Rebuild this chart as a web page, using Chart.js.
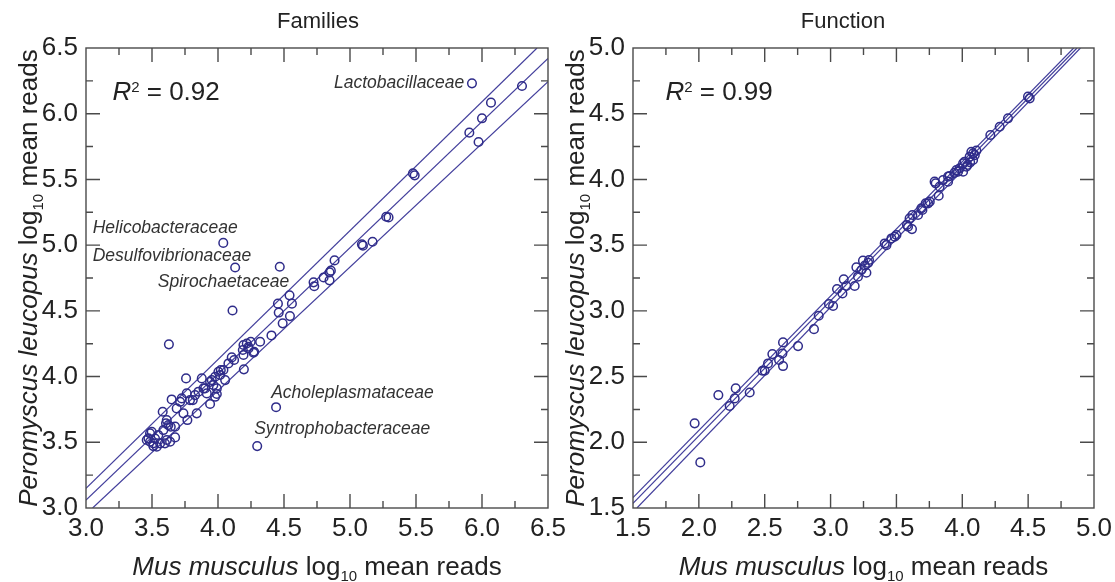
<!DOCTYPE html>
<html>
<head>
<meta charset="utf-8">
<script src="https://cdn.jsdelivr.net/npm/chart.js@4.4.1/dist/chart.umd.min.js"></script>
<style>
  html, body { margin: 0; padding: 0; background: #fff; overflow: hidden; width: 1115px; height: 582px; }
  canvas { position: absolute; top: 0; }
  #famChart { left: 0; }
  #funChart { left: 557px; }
</style>
</head>
<body>
<canvas id="famChart" width="600" height="582"></canvas>
<canvas id="funChart" width="590" height="582"></canvas>
<script>
// Families: Mus musculus (x) vs Peromyscus leucopus (y), log10 mean reads
const famX = [5.924, 6.303, 6.068, 6.000, 5.904, 5.974, 5.477, 5.490, 5.274, 5.292,
  5.090, 5.098, 5.171, 4.883, 4.845, 4.855, 4.845, 4.800, 4.724, 4.729,
  4.040, 4.130, 4.468, 4.110, 4.542, 4.454, 4.460, 4.560, 4.545, 4.490,
  4.405, 3.628, 4.440, 4.297, 4.193, 4.218, 4.248, 4.231, 4.269, 4.319,
  4.196, 4.193, 4.274, 4.188, 4.231, 4.104, 4.122, 4.079, 4.041, 4.003,
  4.016, 4.054, 3.978, 3.953, 3.965, 3.991, 3.940, 4.021, 3.991, 3.940,
  3.890, 3.915, 3.978, 3.877, 3.758, 3.902, 3.852, 3.826, 3.809, 3.763,
  3.839, 3.768, 3.725, 3.649, 3.687, 3.581, 3.612, 3.642, 3.713, 3.738,
  3.788, 3.606, 3.675, 3.498, 3.523, 3.548, 3.485, 3.561, 3.612, 3.675,
  3.637, 3.510, 3.586, 3.624, 3.473, 3.460, 3.536, 3.598, 3.485, 3.510];
const famY = [6.231, 6.211, 6.084, 5.965, 5.856, 5.785, 5.546, 5.531, 5.216, 5.211,
  5.006, 4.996, 5.026, 4.884, 4.793, 4.806, 4.732, 4.754, 4.717, 4.687,
  5.017, 4.830, 4.836, 4.503, 4.618, 4.555, 4.487, 4.555, 4.460, 4.405,
  4.313, 4.245, 3.767, 3.471, 4.240, 4.252, 4.265, 4.214, 4.181, 4.265,
  4.055, 4.164, 4.189, 4.202, 4.227, 4.146, 4.126, 4.100, 4.050, 4.037,
  4.012, 3.973, 3.999, 3.973, 3.935, 3.867, 3.791, 4.049, 3.910, 3.960,
  3.910, 3.872, 3.846, 3.986, 3.986, 3.910, 3.885, 3.859, 3.821, 3.872,
  3.720, 3.669, 3.834, 3.826, 3.758, 3.732, 3.669, 3.618, 3.808, 3.720,
  3.821, 3.644, 3.619, 3.580, 3.529, 3.555, 3.504, 3.491, 3.517, 3.537,
  3.504, 3.471, 3.593, 3.631, 3.530, 3.517, 3.466, 3.492, 3.568, 3.492];

// regression line and its two bounds (families)
const famUpX = [3.0, 6.417], famUpY = [3.149, 6.5];
const famMidX = [3.0, 6.5], famMidY = [3.06, 6.42];
const famLowX = [3.05, 6.5], famLowY = [3.0, 6.244];
const famTicks = [3.0, 3.5, 4.0, 4.5, 5.0, 5.5, 6.0, 6.5];
const famNames = ['Lactobacillaceae', 'Helicobacteraceae', 'Desulfovibrionaceae',
  'Spirochaetaceae', 'Acholeplasmataceae', 'Syntrophobacteraceae'];

// Function
const funX = [1.968, 2.011, 2.148, 2.280, 2.272, 2.234, 2.386, 2.482, 2.500, 2.525,
  2.558, 2.639, 2.634, 2.609, 2.639, 2.753, 2.874, 2.910, 2.988, 3.019,
  3.049, 3.100, 3.090, 3.120, 3.183, 3.196, 3.246, 3.272, 3.292, 3.208,
  3.234, 3.285, 3.260, 3.424, 3.411, 3.462, 3.487, 3.500, 3.580, 3.600,
  3.621, 3.588, 3.618, 3.664, 3.697, 3.689, 3.722, 3.740, 3.753, 3.798,
  3.790, 3.821, 3.828, 3.854, 3.892, 3.892, 3.904, 3.940, 3.955, 3.968,
  3.980, 4.006, 4.006, 4.018, 4.031, 4.040, 4.056, 4.060, 4.069, 4.082,
  4.082, 4.095, 4.107, 4.213, 4.284, 4.347, 4.499, 4.512];
const funY = [2.144, 1.847, 2.359, 2.410, 2.334, 2.276, 2.379, 2.544, 2.544, 2.600,
  2.671, 2.760, 2.676, 2.626, 2.580, 2.732, 2.861, 2.963, 3.052, 3.037,
  3.166, 3.240, 3.133, 3.189, 3.189, 3.331, 3.382, 3.290, 3.387, 3.260,
  3.311, 3.365, 3.345, 3.500, 3.513, 3.551, 3.564, 3.577, 3.653, 3.704,
  3.729, 3.640, 3.622, 3.729, 3.767, 3.780, 3.818, 3.818, 3.831, 3.970,
  3.983, 3.876, 3.945, 3.995, 3.983, 4.021, 4.026, 4.050, 4.071, 4.059,
  4.084, 4.059, 4.122, 4.135, 4.097, 4.110, 4.173, 4.130, 4.211, 4.148,
  4.198, 4.185, 4.219, 4.338, 4.401, 4.465, 4.630, 4.617];

const funUpX = [1.5, 4.846], funUpY = [1.58, 5.0];
const funMidX = [1.5, 4.871], funMidY = [1.535, 5.0];
const funLowX = [1.53, 4.897], funLowY = [1.5, 5.0];
const funTicks = [1.5, 2.0, 2.5, 3.0, 3.5, 4.0, 4.5, 5.0];

const FONT = '"Liberation Sans", Arial, Helvetica, sans-serif';
const MARK = '#2f2c8a';
const LINE = '#433f9c';
const FRAME = '#4a4a4a';
const TEXT = '#222';

function pairs(xs, ys) {
  return xs.map((x, i) => ({ x: x, y: ys[i] }));
}

// draws a line of text made of styled parts (italic, sub/superscript), centred or left aligned
function richText(ctx, parts, size, x, y, align) {
  const fontOf = p => (p.it ? 'italic ' : '') + ((p.sub || p.sup) ? Math.round(size * 0.58) : size) + 'px ' + FONT;
  let total = 0;
  parts.forEach(p => { ctx.font = fontOf(p); p.w = ctx.measureText(p.t).width; total += p.w; });
  let cx = align === 'left' ? x : x - total / 2;
  ctx.textAlign = 'left';
  ctx.textBaseline = 'alphabetic';
  parts.forEach(p => {
    ctx.font = fontOf(p);
    const dy = p.sub ? size * 0.22 : (p.sup ? -size * 0.32 : 0);
    ctx.fillText(p.t, cx, y + dy);
    cx += p.w;
  });
}

function makeChart(id, o) {
  const deco = {
    id: 'deco',
    afterDraw(chart) {
      const ctx = chart.ctx, a = chart.chartArea;
      const xs = chart.scales.x, ys = chart.scales.y;
      ctx.save();
      // frame with inward ticks on all four sides
      ctx.strokeStyle = FRAME;
      ctx.lineWidth = 1.4;
      ctx.strokeRect(a.left, a.top, a.right - a.left, a.bottom - a.top);
      const major = v => Math.abs(v * 2 - Math.round(v * 2)) < 1e-6;
      ctx.beginPath();
      for (let v = xs.min + 0.25; v < xs.max - 1e-6; v += 0.25) {
        const p = xs.getPixelForValue(v), len = major(v) ? 14 : 7;
        ctx.moveTo(p, a.bottom); ctx.lineTo(p, a.bottom - len);
        ctx.moveTo(p, a.top); ctx.lineTo(p, a.top + len);
      }
      for (let v = ys.min + 0.25; v < ys.max - 1e-6; v += 0.25) {
        const p = ys.getPixelForValue(v), len = major(v) ? 14 : 7;
        ctx.moveTo(a.left, p); ctx.lineTo(a.left + len, p);
        ctx.moveTo(a.right, p); ctx.lineTo(a.right - len, p);
      }
      ctx.stroke();

      ctx.fillStyle = TEXT;
      // panel title
      ctx.font = '22px ' + FONT;
      ctx.textAlign = 'center';
      ctx.textBaseline = 'middle';
      ctx.fillText(o.title, o.titleX, 22);

      // axis titles
      const cxMid = (a.left + a.right) / 2, cyMid = (a.top + a.bottom) / 2;
      richText(ctx, [{ t: 'Mus musculus', it: true }, { t: ' log' }, { t: '10', sub: true }, { t: ' mean reads' }],
        26, cxMid, a.bottom + 67, 'center');
      ctx.save();
      ctx.translate(a.left - 49, cyMid);
      ctx.rotate(-Math.PI / 2);
      richText(ctx, [{ t: 'Peromyscus leucopus', it: true }, { t: ' log' }, { t: '10', sub: true }, { t: ' mean reads' }],
        26, 0, 0, 'center');
      ctx.restore();

      // R squared
      richText(ctx, [{ t: 'R', it: true }, { t: '2', sup: true }, { t: ' = ' + o.r2 }], 26,
        xs.getPixelForValue(o.r2At[0]), ys.getPixelForValue(o.r2At[1]), 'left');

      // family names
      ctx.font = 'italic 17.5px ' + FONT;
      ctx.fillStyle = '#333';
      ctx.textBaseline = 'middle';
      o.notes.forEach((n, i) => {
        ctx.textAlign = n.align;
        ctx.fillText(o.names[i], xs.getPixelForValue(n.x), ys.getPixelForValue(n.y));
      });
      ctx.restore();
    }
  };

  const bands = o.bands.map(b => ({
    data: pairs(b[0], b[1]),
    showLine: true,
    pointRadius: 0,
    borderColor: LINE,
    borderWidth: 1.2,
    fill: false
  }));

  const tickFont = { family: FONT, size: 26 };
  return new Chart(document.getElementById(id), {
    type: 'scatter',
    data: {
      datasets: [{
        data: pairs(o.xs, o.ys),
        pointStyle: 'circle',
        pointRadius: 4.3,
        pointHoverRadius: 4.3,
        pointBorderWidth: 1.5,
        pointBorderColor: MARK,
        pointBackgroundColor: 'rgba(0,0,0,0)'
      }].concat(bands)
    },
    options: {
      responsive: false,
      animation: false,
      events: [],
      layout: { padding: { left: 0, top: 48, right: o.padRight, bottom: 0 } },
      plugins: { legend: { display: false }, tooltip: { enabled: false } },
      scales: {
        x: {
          type: 'linear',
          min: o.ticks[0], max: o.ticks[o.ticks.length - 1],
          grid: { display: false, drawTicks: false },
          border: { display: false },
          afterBuildTicks: s => { s.ticks = o.ticks.map(v => ({ value: v })); },
          afterFit: s => { s.height = 74; },
          ticks: { font: tickFont, color: TEXT, padding: 5, maxRotation: 0, autoSkip: false,
            callback: v => Number(v).toFixed(1) }
        },
        y: {
          type: 'linear',
          min: o.ticks[0], max: o.ticks[o.ticks.length - 1],
          grid: { display: false, drawTicks: false },
          border: { display: false },
          afterBuildTicks: s => { s.ticks = o.ticks.map(v => ({ value: v })); },
          afterFit: s => { s.width = o.axisLeft; },
          ticks: { font: tickFont, color: TEXT, padding: 8, autoSkip: false,
            callback: v => Number(v).toFixed(1) }
        }
      }
    },
    plugins: [deco]
  });
}

makeChart('famChart', {
  xs: famX, ys: famY,
  bands: [[famUpX, famUpY], [famMidX, famMidY], [famLowX, famLowY]],
  ticks: famTicks,
  axisLeft: 86, padRight: 52,
  title: 'Families', titleX: 318,
  r2: '0.92', r2At: [3.2, 6.104],
  names: famNames,
  notes: [
    { x: 5.866, y: 6.236, align: 'right' },
    { x: 3.051, y: 5.132, align: 'left' },
    { x: 3.051, y: 4.917, align: 'left' },
    { x: 3.544, y: 4.721, align: 'left' },
    { x: 4.403, y: 3.877, align: 'left' },
    { x: 4.274, y: 3.598, align: 'left' }
  ]
});

makeChart('funChart', {
  xs: funX, ys: funY,
  bands: [[funUpX, funUpY], [funMidX, funMidY], [funLowX, funLowY]],
  ticks: funTicks,
  axisLeft: 76, padRight: 53,
  title: 'Function', titleX: 286,
  r2: '0.99', r2At: [1.746, 4.604],
  names: [],
  notes: []
});
</script>
</body>
</html>
